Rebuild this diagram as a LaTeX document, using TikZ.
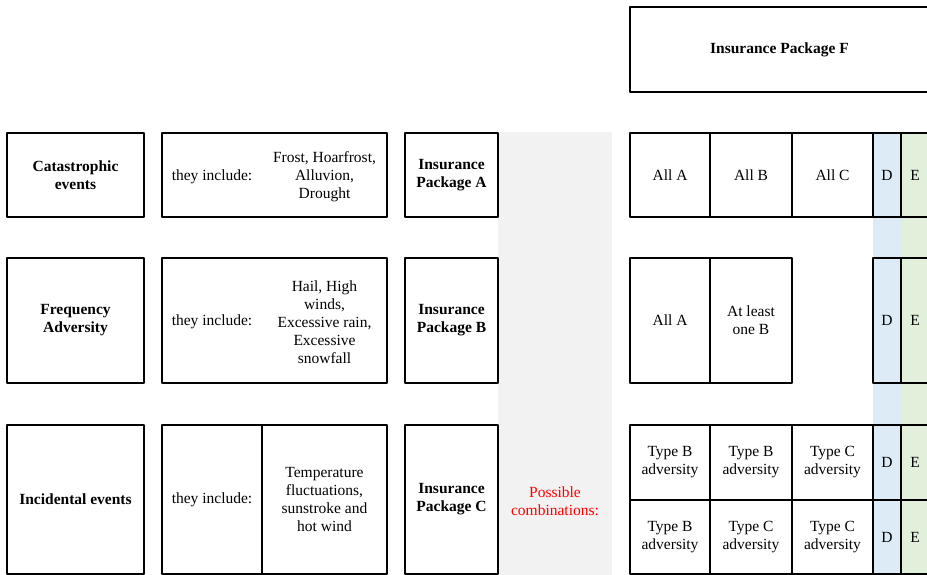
\documentclass[tikz,border=0pt]{standalone}
\usepackage{fontspec}
\setmainfont{Liberation Serif}[BoldFont={Liberation Serif Bold}]
\definecolor{bandgray}{HTML}{F2F2F2}
\definecolor{bandblue}{HTML}{DDEBF7}
\definecolor{bandgreen}{HTML}{E2EFDA}
\begin{document}
\begin{tikzpicture}[>=latex,line join=bevel,
  txt/.style={inner sep=0pt,align=center,font=\fontsize{15.5bp}{18bp}\selectfont},
  cell/.style={txt,draw,line width=2bp},
  head/.style={cell,font=\bfseries\fontsize{15.5bp}{18bp}\selectfont},
]
%%
\clip (0bp,0bp) rectangle (927bp,575bp);
\fill [bandgray] (498bp,0bp) rectangle (612bp,443bp);
\fill [bandblue] (873bp,0bp) rectangle (901bp,442bp);
\fill [bandgreen] (901bp,0bp) rectangle (929bp,442bp);
%
\node (node_f) at (779.5bp,525.5bp) [head,minimum width=299bp,minimum height=85bp] {Insurance Package F};
%
\node (node_cat) at (75.5bp,400bp) [head,minimum width=137bp,minimum height=84bp] {Catastrophic\\events};
  \node (node_cat_inc) at (274.5bp,400bp) [cell,minimum width=225bp,minimum height=84bp] {};
  \node (node_cat_lbl) at (212bp,398.5bp) [txt] {they include:};
  \node (node_cat_list) at (324.5bp,398.5bp) [txt] {Frost, Hoarfrost,\\Alluvion,\\Drought};
  \node (node_pkg_a) at (451.5bp,400bp) [head,minimum width=93bp,minimum height=84bp] {Insurance\\Package A};
%
\node (node_freq) at (75.5bp,254.5bp) [head,minimum width=137bp,minimum height=125bp] {Frequency\\Adversity};
  \node (node_freq_inc) at (274.5bp,254.5bp) [cell,minimum width=225bp,minimum height=125bp] {};
  \node (node_freq_lbl) at (212bp,253bp) [txt] {they include:};
  \node (node_freq_list) at (324.5bp,253bp) [txt] {Hail, High\\winds,\\Excessive rain,\\Excessive\\snowfall};
  \node (node_pkg_b) at (451.5bp,254.5bp) [head,minimum width=93bp,minimum height=125bp] {Insurance\\Package B};
%
\node (node_inc) at (75.5bp,75.5bp) [head,minimum width=137bp,minimum height=149bp] {Incidental events};
  \node (node_inc_lbl) at (212bp,75.5bp) [cell,minimum width=100bp,minimum height=149bp] {they include:};
  \node (node_inc_list) at (324.5bp,75.5bp) [cell,minimum width=125bp,minimum height=149bp] {Temperature\\fluctuations,\\sunstroke and\\hot wind};
  \node (node_pkg_c) at (451.5bp,75.5bp) [head,minimum width=93bp,minimum height=149bp] {Insurance\\Package C};
%
\node (node_comb) at (555bp,74bp) [txt,text=red] {Possible\\combinations:};
%
\node (node_a_1) at (670bp,400bp) [cell,minimum width=80bp,minimum height=84bp] {All A};
  \node (node_a_2) at (751bp,400bp) [cell,minimum width=82bp,minimum height=84bp] {All B};
  \node (node_a_3) at (832.5bp,400bp) [cell,minimum width=81bp,minimum height=84bp] {All C};
  \node (node_a_d) at (887bp,400bp) [cell,minimum width=28bp,minimum height=84bp] {D};
  \node (node_a_e) at (915bp,400bp) [cell,minimum width=28bp,minimum height=84bp] {E};
%
\node (node_b_1) at (670bp,254.5bp) [cell,minimum width=80bp,minimum height=125bp] {All A};
  \node (node_b_2) at (751bp,254.5bp) [cell,minimum width=82bp,minimum height=125bp] {At least\\one B};
  \node (node_b_d) at (887bp,254.5bp) [cell,minimum width=28bp,minimum height=125bp] {D};
  \node (node_b_e) at (915bp,254.5bp) [cell,minimum width=28bp,minimum height=125bp] {E};
%
\node (node_c_1) at (670bp,112.5bp) [cell,minimum width=80bp,minimum height=75bp] {Type B\\adversity};
  \node (node_c_2) at (751bp,112.5bp) [cell,minimum width=82bp,minimum height=75bp] {Type B\\adversity};
  \node (node_c_3) at (832.5bp,112.5bp) [cell,minimum width=81bp,minimum height=75bp] {Type C\\adversity};
  \node (node_c_d) at (887bp,112.5bp) [cell,minimum width=28bp,minimum height=75bp] {D};
  \node (node_c_e) at (915bp,112.5bp) [cell,minimum width=28bp,minimum height=75bp] {E};
%
\node (node_d_1) at (670bp,38bp) [cell,minimum width=80bp,minimum height=74bp] {Type B\\adversity};
  \node (node_d_2) at (751bp,38bp) [cell,minimum width=82bp,minimum height=74bp] {Type C\\adversity};
  \node (node_d_3) at (832.5bp,38bp) [cell,minimum width=81bp,minimum height=74bp] {Type C\\adversity};
  \node (node_d_d) at (887bp,38bp) [cell,minimum width=28bp,minimum height=74bp] {D};
  \node (node_d_e) at (915bp,38bp) [cell,minimum width=28bp,minimum height=74bp] {E};
%
\end{tikzpicture}
\end{document}
